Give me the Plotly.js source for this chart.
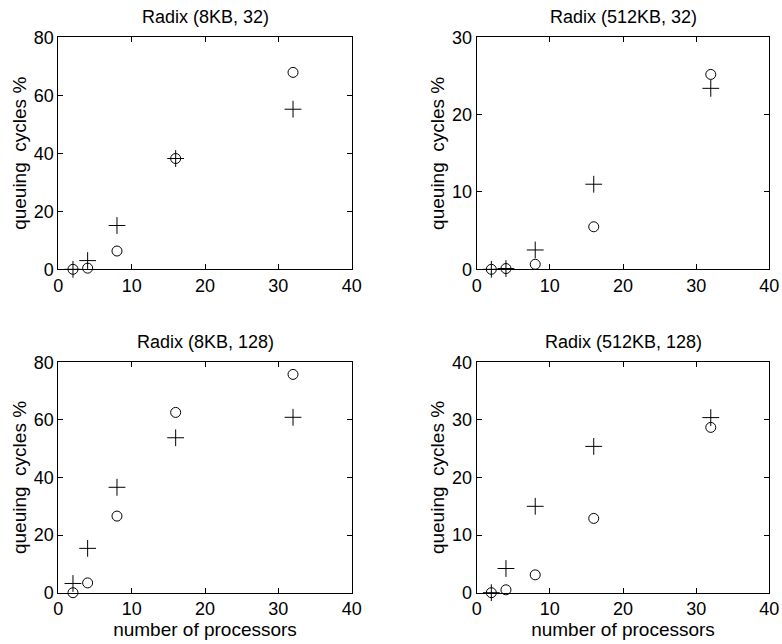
<!DOCTYPE html>
<html><head><meta charset="utf-8">
<script src="https://cdn.plot.ly/plotly-3.0.1.min.js"></script>
<style>body{margin:0;background:#fff}#chart{width:782px;height:644px}</style>
</head><body><div id="chart"></div>
<script>
const processors = [2, 4, 8, 16, 32];
const titles = ["Radix (8KB, 32)", "Radix (512KB, 32)", "Radix (8KB, 128)", "Radix (512KB, 128)"];
const yMax = [80, 30, 80, 40];
const yTicks = [[0,20,40,60,80],[0,10,20,30],[0,20,40,60,80],[0,10,20,30,40]];
const xTicks = [0, 10, 20, 30, 40];
const circ8k32 = [0, 0.4, 6.3, 38.2, 67.9];
const plus8k32 = [0, 3.0, 15.1, 38.2, 55.2];
const circ512k32 = [0, 0.1, 0.65, 5.5, 25.2];
const plus512k32 = [0, 0.1, 2.5, 11.0, 23.4];
const circ8k128 = [0, 3.4, 26.6, 62.6, 75.8];
const plus8k128 = [3.2, 15.4, 36.6, 53.8, 60.9];
const circ512k128 = [0, 0.5, 3.1, 12.9, 28.7];
const plus512k128 = [0, 4.2, 15.0, 25.4, 30.4];

const circles = [circ8k32, circ512k32, circ8k128, circ512k128];
const pluses = [plus8k32, plus512k32, plus8k128, plus512k128];

const W = 782, H = 644;
const xDom = [[58.3/W, 351.7/W], [476.7/W, 769.3/W]];
const yDom = [[1-269.3/H, 1-37.3/H], [1-592.7/H, 1-362.3/H]];
const font = "Liberation Sans, Arial, Helvetica, sans-serif";

const data = [];
const layout = {
  width: W, height: H, margin: {l:0, r:0, t:0, b:0},
  paper_bgcolor: "#fff", plot_bgcolor: "#fff", showlegend: false,
  font: {family: font, color: "#000", size: 18},
  annotations: []
};
for (let i = 0; i < 4; i++) {
  const n = i + 1;
  const xa = "x" + (n === 1 ? "" : n), ya = "y" + (n === 1 ? "" : n);
  const col = i % 2, row = Math.floor(i / 2);
  data.push({x: processors, y: circles[i], xaxis: xa, yaxis: ya, type: "scatter", mode: "markers",
    marker: {symbol: "circle-open", size: 10, color: "#000", line: {width: 1, color: "#000"}}, cliponaxis: false});
  data.push({x: processors, y: pluses[i], xaxis: xa, yaxis: ya, type: "scatter", mode: "markers",
    marker: {symbol: "cross-thin-open", size: 12, color: "#000", line: {width: 1, color: "#000"}}, cliponaxis: false});
  const axBase = {showgrid: false, zeroline: false, showline: true, linecolor: "#000", linewidth: 1,
    mirror: "ticks", ticks: "inside", ticklen: 5, tickcolor: "#000", tickfont: {size: 18, family: font}};
  layout["xaxis" + (n === 1 ? "" : n)] = Object.assign({}, axBase, {
    domain: xDom[col], anchor: ya, range: [0, 40], tickvals: xTicks, ticktext: xTicks.map(String),
    title: row === 1 ? {text: "number of processors", font: {size: 19, family: font}, standoff: 0} : undefined
  });
  layout["yaxis" + (n === 1 ? "" : n)] = Object.assign({}, axBase, {
    domain: yDom[row], anchor: xa, range: [0, yMax[i]], tickvals: yTicks[i], ticktext: yTicks[i].map(String),
    title: {text: "queuing  cycles %", font: {size: 19, family: font}, standoff: 2}
  });
  layout.annotations.push({text: titles[i], xref: "paper", yref: "paper",
    x: (xDom[col][0] + xDom[col][1]) / 2, xanchor: "center", y: yDom[row][1], yanchor: "bottom", yshift: 8,
    showarrow: false, font: {size: 18, family: font}});
}
Plotly.newPlot("chart", data, layout, {displayModeBar: false, staticPlot: true});
</script></body></html>
